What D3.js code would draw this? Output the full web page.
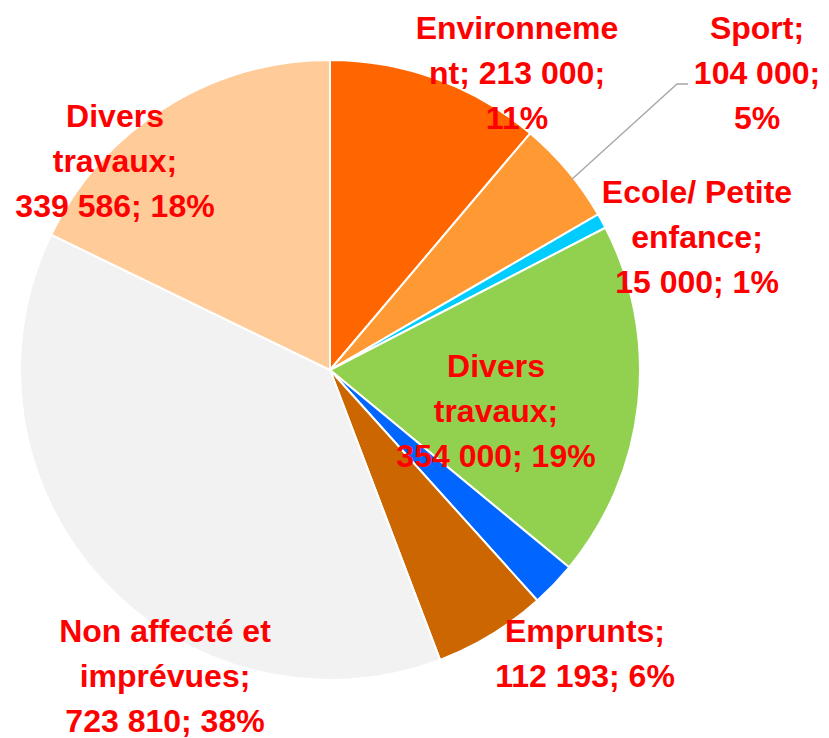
<!DOCTYPE html>
<html><head><meta charset="utf-8">
<script src="https://cdn.jsdelivr.net/npm/d3@7"></script>
<style>html,body{margin:0;padding:0;background:#fff;}</style>
</head><body>
<svg id="chart" width="829" height="738"></svg>
<script>
const categories = ["Environnement","Sport","Ecole/ Petite enfance","Divers travaux","Autres","Emprunts","Non affecté et imprévues","Divers travaux"];
const values = [213000,104000,15000,354000,45000,112193,723810,339586];
const percents = ["11%","5%","1%","19%","2%","6%","38%","18%"];
const colors = ["#FF6600","#FF9933","#00CCFF","#92D050","#0066FF","#CC6600","#F2F2F2","#FFCC99"];
const labelLines = [
  ["Environneme","nt; 213 000;","11%"],
  ["Sport;","104 000;","5%"],
  ["Ecole/ Petite","enfance;","15 000; 1%"],
  ["Divers","travaux;","354 000; 19%"],
  null,
  ["Emprunts;","112 193; 6%"],
  ["Non affecté et","imprévues;","723 810; 38%"],
  ["Divers","travaux;","339 586; 18%"]
];

// layout (not data)
const cx = 330, cy = 370, R = 310;
const labelPos = [[517,39],[757,39],[697,203],[496,377],null,[585,642],[165,642],[115,127]];
const lineH = 45;

const svg = d3.select("#chart");
const g = svg.append("g").attr("transform",`translate(${cx},${cy})`);
const pie = d3.pie().sort(null).value(d=>d.v);
const data = values.map((v,i)=>({v,i}));
const arcs = pie(data);
const arc = d3.arc().innerRadius(0).outerRadius(R);

g.selectAll("path").data(arcs).join("path")
  .attr("d",arc)
  .attr("fill",d=>colors[d.data.i])
  .attr("stroke","#fff").attr("stroke-width",2).attr("stroke-linejoin","round");

// leader line for Sport
const sp = arcs[1];
const midA = (sp.startAngle+sp.endAngle)/2;
const p0 = [cx + (R-2)*Math.sin(midA+0.03), cy - (R-2)*Math.cos(midA+0.03)];
svg.append("polyline")
  .attr("points",[p0,[677,84],[688,84]].map(p=>p.join(",")).join(" "))
  .attr("fill","none").attr("stroke","#A6A6A6").attr("stroke-width",1.3);

const lab = svg.append("g")
  .attr("font-family","'Liberation Sans', Arial, sans-serif")
  .attr("font-weight","bold").attr("font-size",32).attr("fill","#FF0000")
  .attr("text-anchor","middle");
labelLines.forEach((lines,i)=>{
  if(!lines) return;
  const [x,y] = labelPos[i];
  const t = lab.append("text").attr("x",x).attr("y",y);
  lines.forEach((s,k)=>t.append("tspan").attr("x",x).attr("y",y+k*lineH).text(s));
});
</script>
</body></html>
